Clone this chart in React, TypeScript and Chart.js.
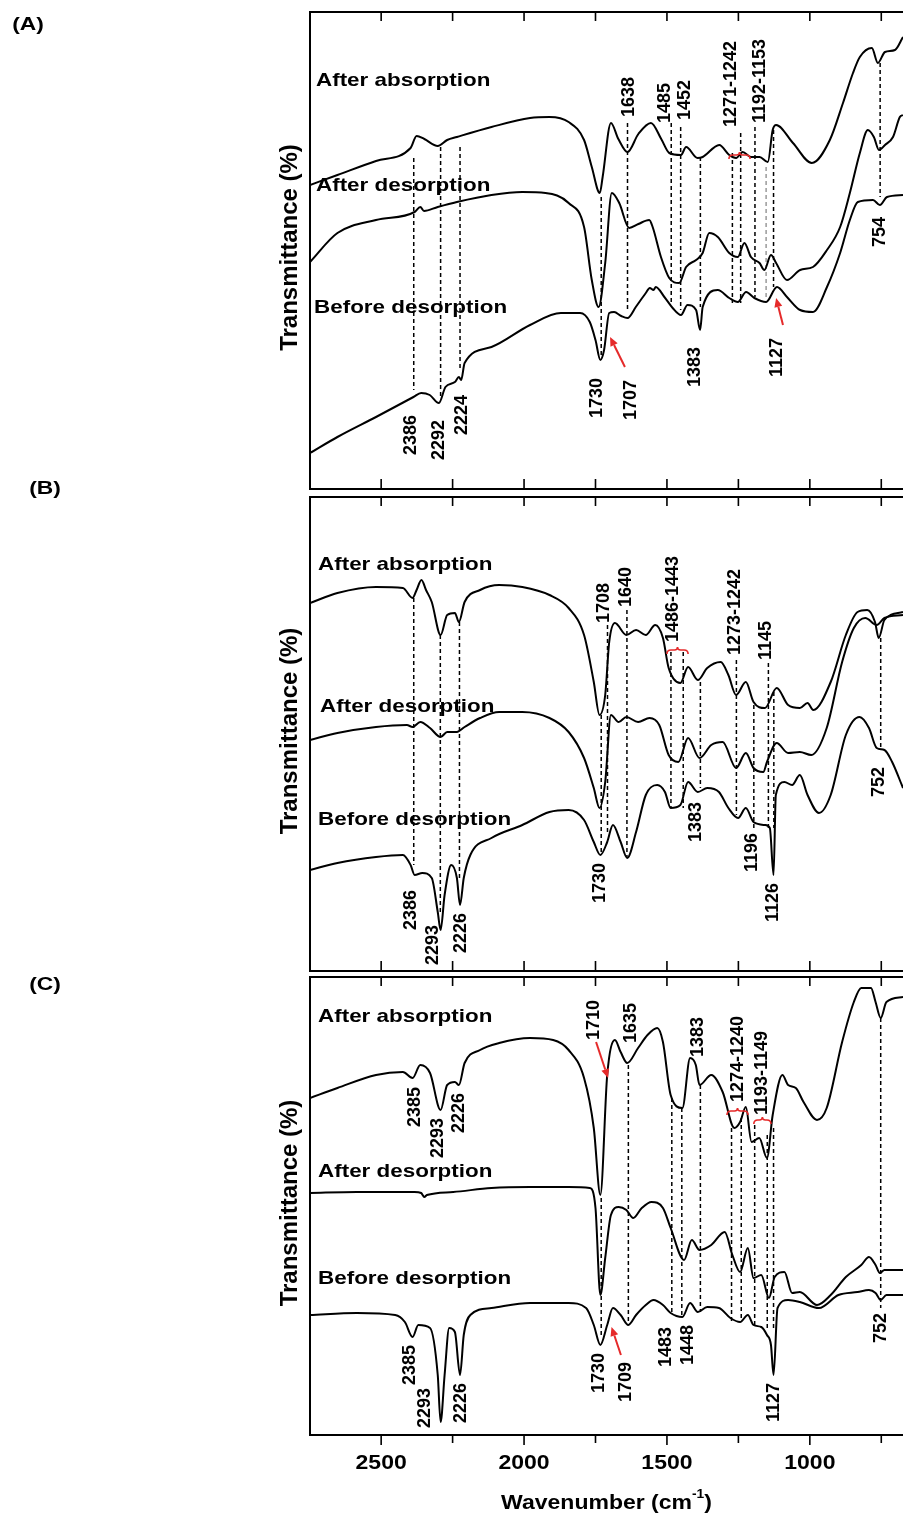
import React, { useEffect, useRef } from "react";
import { Chart, registerables } from "chart.js";

Chart.register(...registerables);

const FONT = "'Liberation Sans', Arial, Helvetica, sans-serif";
const WN_MIN = 674;
const WN_MAX = 2749;
const TICK_VALUES = [2500, 2250, 2000, 1750, 1500, 1250, 1000, 750];
const TICK_LABELS = ["2500", "", "2000", "", "1500", "", "1000", ""];
const SERIES_NAMES = ["After absorption", "After desorption", "Before desorption"];
const X_TITLE = "Wavenumber (cm";
const X_TITLE_SUP = "-1";
const Y_TITLE = "Transmittance (%)";

// ---------------- Panel A ----------------
const A_ABS_WN = [2749,2653,2518,2397,2376,2349,2302,2269,2235,2114,1979,1911,1844,1790,1763,1735,1725,1696,1670,1638,1600,1556,1520,1492,1451,1433,1393,1375,1317,1282,1258,1235,1206,1176,1147,1130,1118,1059,993,930,884,849,825,783,762,737,702,674];
const A_ABS_T = [304,314,328,341,353,350,343,349,352,362,371,372,367,349,322,296,312,366,350,337,355,366,350,336,334,342,331,332,344,334,331,337,332,332,327,359,364,346,326,349,386,416,432,441,426,437,439,452];
const A_DES_WN = [2749,2653,2518,2383,2363,2350,2302,2235,2114,2006,1925,1844,1790,1763,1739,1716,1693,1667,1632,1600,1562,1550,1521,1492,1457,1433,1398,1375,1352,1322,1282,1252,1229,1206,1176,1159,1136,1118,1080,1034,989,940,894,860,825,797,776,758,737,709,685,674];
const A_DES_T = [227,256,269,277,282,278,282,287,294,297,296,286,262,209,182,226,296,286,261,265,269,262,232,211,206,222,229,236,256,252,236,232,246,232,226,219,234,226,209,219,222,239,262,296,336,359,352,339,344,352,372,374];
const A_BEF_WN = [2749,2653,2518,2387,2360,2330,2298,2275,2242,2228,2220,2208,2114,1979,1871,1804,1770,1750,1733,1720,1702,1685,1660,1638,1609,1574,1560,1547,1539,1509,1480,1451,1428,1398,1384,1375,1322,1282,1252,1223,1194,1153,1115,1080,1034,989,940,894,860,832,779,755,730,674];
const A_BEF_T = [36,52,72,92,96,94,86,102,107,112,109,126,142,164,176,176,167,149,129,139,176,177,173,171,182,196,201,199,202,192,181,174,184,179,159,182,199,191,187,197,191,187,202,192,179,177,202,236,269,287,289,284,292,294];
const A_DASH_WN = [2386,2292,2224,1730,1638,1485,1452,1383,1271,1242,1192,1153,1127,754];
const A_DASH_TOP = [331,342,342,292,366,366,362,332,336,356,362,322,359,426];
const A_DASH_BOT = [99,91,119,132,179,186,179,182,186,186,192,192,202,292];
const A_GRAY_DASH = [1153];
const A_LABEL_TEXT = ["1638","1485","1452","1271-1242","1192-1153","754","2386","2292","2224","1730","1707","1383","1127"];
const A_LABEL_WN = [1634,1505,1438,1275,1175,755,2397,2297,2216,1743,1627,1400,1116];
const A_LABEL_Y = [372,366,369,362,366,242,34,29,54,71,69,102,112];
const A_NAME_WN = [2728,2728,2735];
const A_NAME_Y = [408,303,181];
const A_ARROWS = [[1647,122,1699,152],[1094,164,1118,191]];
const A_BRACES = [[1283,1209,334]];

// ---------------- Panel B ----------------
const B_ABS_WN = [2749,2653,2518,2424,2390,2376,2359,2343,2323,2292,2269,2242,2228,2208,2154,2087,2006,1911,1844,1790,1756,1736,1716,1702,1682,1642,1608,1574,1541,1514,1494,1453,1426,1392,1359,1312,1285,1258,1224,1197,1157,1116,1076,1035,1008,988,927,874,833,799,772,759,739,674];
const B_ABS_T = [368,378,384,383,373,381,391,381,369,336,356,358,349,369,381,386,384,376,363,336,289,256,276,329,348,336,341,336,346,333,303,288,304,291,303,309,296,276,289,269,263,283,266,263,268,261,289,336,359,361,349,333,351,359];
const B_DES_WN = [2749,2653,2518,2410,2390,2363,2329,2292,2269,2235,2208,2154,2087,2006,1911,1844,1790,1756,1736,1716,1696,1669,1642,1601,1561,1527,1494,1460,1426,1386,1345,1305,1258,1224,1197,1163,1150,1116,1076,1035,995,941,887,846,806,766,739,674];
const B_DES_T = [231,238,244,246,244,249,243,234,239,239,244,253,259,259,253,239,213,183,163,189,256,249,254,249,253,246,216,209,233,213,226,229,203,218,203,199,209,228,218,219,216,243,309,343,353,346,353,356];
const B_BEF_WN = [2749,2653,2518,2424,2397,2383,2356,2323,2302,2292,2278,2255,2235,2224,2211,2188,2114,2006,1911,1844,1790,1756,1733,1709,1689,1662,1639,1608,1574,1534,1507,1487,1453,1426,1392,1359,1318,1285,1251,1224,1197,1157,1140,1127,1119,1089,1062,1035,1008,968,927,874,826,793,766,739,712,674];
const B_BEF_T = [101,108,114,116,106,96,98,93,59,41,76,106,93,66,93,116,133,146,159,161,151,129,116,129,146,129,113,139,176,186,179,163,166,189,179,183,179,163,153,163,149,146,143,96,176,189,186,196,176,158,176,236,254,243,223,221,209,183];
const B_DASH_WN = [2386,2293,2226,1730,1708,1640,1486,1443,1383,1257,1196,1145,1126,752];
const B_DASH_TOP = [373,336,349,256,346,361,319,319,289,311,266,308,279,333];
const B_DASH_BOT = [106,59,93,116,136,114,163,163,183,156,143,143,143,223];
const B_GRAY_DASH: number[] = [];
const B_LABEL_TEXT = ["1708","1640","1486-1443","1273-1242","1145","2386","2293","2226","1730","1383","1196","1126","752"];
const B_LABEL_WN = [1720,1643,1479,1262,1153,2394,2319,2219,1734,1398,1202,1129,758];
const B_LABEL_Y = [348,364,329,316,311,41,6,18,68,129,99,49,174];
const B_NAME_WN = [2721,2714,2721];
const B_NAME_Y = [406,264,151];
const B_ARROWS: number[][] = [];
const B_BRACES = [[1500,1426,321]];

// ---------------- Panel C ----------------
const C_ABS_WN = [2749,2653,2518,2424,2390,2363,2329,2292,2269,2242,2228,2208,2154,2087,1979,1898,1844,1790,1756,1733,1709,1682,1662,1639,1601,1568,1534,1514,1487,1446,1419,1399,1386,1345,1305,1264,1244,1224,1204,1177,1150,1130,1096,1076,1049,1022,975,941,887,846,820,786,770,752,732,674];
const C_ABS_T = [337,347,360,363,357,370,362,325,350,353,350,372,385,392,397,395,385,357,307,240,360,395,383,372,387,400,407,393,340,327,377,370,350,360,343,307,313,328,293,297,277,320,360,350,347,333,315,327,393,433,447,447,433,417,433,438];
const C_DES_WN = [2749,2585,2383,2360,2349,2340,2248,2114,1979,1844,1770,1750,1733,1716,1696,1669,1642,1618,1588,1554,1514,1487,1440,1413,1386,1345,1298,1271,1244,1217,1197,1170,1143,1123,1089,1062,1035,975,927,874,820,793,770,755,739,674];
const C_DES_T = [242,243,243,242,238,240,243,247,248,248,247,227,140,177,220,228,225,217,227,233,227,207,175,195,185,190,203,180,163,187,157,160,137,158,163,142,143,130,140,158,170,178,170,162,165,165];
const C_BEF_WN = [2749,2585,2451,2417,2390,2370,2329,2302,2292,2278,2262,2242,2224,2211,2188,2114,1979,1844,1783,1756,1733,1709,1689,1662,1635,1608,1574,1547,1514,1487,1446,1419,1392,1359,1318,1278,1244,1217,1197,1170,1150,1136,1127,1113,1076,1035,968,900,833,793,770,752,732,674];
const C_BEF_T = [120,122,120,113,98,110,107,60,13,60,107,103,60,100,120,127,132,132,127,110,90,110,127,120,110,120,130,135,130,122,118,132,123,128,127,117,113,120,110,108,100,90,60,127,135,133,127,140,143,145,142,135,140,140];
const C_DASH_WN = [1730,1635,1483,1448,1383,1274,1240,1193,1149,1127,752];
const C_DASH_TOP = [237,370,337,327,350,307,317,310,300,307,417];
const C_DASH_BOT = [97,110,120,117,123,113,113,110,107,105,127];
const C_GRAY_DASH: number[] = [];
const C_LABEL_TEXT = ["1710","1635","1383","1274-1240","1193-1149","2385","2293","2226","2385","2293","2226","1730","1709","1483","1448","1127","752"];
const C_LABEL_WN = [1755,1626,1391,1251,1169,2383,2302,2226,2400,2347,2219,1738,1643,1503,1426,1125,751];
const C_LABEL_Y = [395,392,378,333,320,308,277,302,50,7,12,42,33,68,70,13,92];
const C_NAME_WN = [2721,2721,2721];
const C_NAME_Y = [418,263,156];
const C_ARROWS = [[1748,393,1706,357],[1661,80,1694,108]];
const C_BRACES = [[1290,1216,324],[1196,1136,315]];

type Panel = {
  letter: string;
  letterX: number;
  letterDy: number;
  canvasTop: number;
  canvasHeight: number;
  padTop: number;
  padBottom: number;
  yMax: number;
  series: { wn: number[]; t: number[] }[];
  dashWn: number[];
  dashTop: number[];
  dashBot: number[];
  grayDash: number[];
  labelText: string[];
  labelWn: number[];
  labelY: number[];
  nameWn: number[];
  nameY: number[];
  arrows: number[][];
  braces: number[][];
  axisBelow: boolean;
};

const PANELS: Panel[] = [
  {
    letter: "(A)", letterX: 28, letterDy: 13,
    canvasTop: 0, canvasHeight: 493, padTop: 12, padBottom: 4, yMax: 477,
    series: [
      { wn: A_ABS_WN, t: A_ABS_T },
      { wn: A_DES_WN, t: A_DES_T },
      { wn: A_BEF_WN, t: A_BEF_T },
    ],
    dashWn: A_DASH_WN, dashTop: A_DASH_TOP, dashBot: A_DASH_BOT, grayDash: A_GRAY_DASH,
    labelText: A_LABEL_TEXT, labelWn: A_LABEL_WN, labelY: A_LABEL_Y,
    nameWn: A_NAME_WN, nameY: A_NAME_Y, arrows: A_ARROWS, braces: A_BRACES,
    axisBelow: false,
  },
  {
    letter: "(B)", letterX: 45, letterDy: -8,
    canvasTop: 470, canvasHeight: 505, padTop: 27, padBottom: 4, yMax: 474,
    series: [
      { wn: B_ABS_WN, t: B_ABS_T },
      { wn: B_DES_WN, t: B_DES_T },
      { wn: B_BEF_WN, t: B_BEF_T },
    ],
    dashWn: B_DASH_WN, dashTop: B_DASH_TOP, dashBot: B_DASH_BOT, grayDash: B_GRAY_DASH,
    labelText: B_LABEL_TEXT, labelWn: B_LABEL_WN, labelY: B_LABEL_Y,
    nameWn: B_NAME_WN, nameY: B_NAME_Y, arrows: B_ARROWS, braces: B_BRACES,
    axisBelow: false,
  },
  {
    letter: "(C)", letterX: 45, letterDy: 8,
    canvasTop: 960, canvasHeight: 557, padTop: 17, padBottom: 82, yMax: 458,
    series: [
      { wn: C_ABS_WN, t: C_ABS_T },
      { wn: C_DES_WN, t: C_DES_T },
      { wn: C_BEF_WN, t: C_BEF_T },
    ],
    dashWn: C_DASH_WN, dashTop: C_DASH_TOP, dashBot: C_DASH_BOT, grayDash: C_GRAY_DASH,
    labelText: C_LABEL_TEXT, labelWn: C_LABEL_WN, labelY: C_LABEL_Y,
    nameWn: C_NAME_WN, nameY: C_NAME_Y, arrows: C_ARROWS, braces: C_BRACES,
    axisBelow: true,
  },
];

const RED = "#e52a2a";

function stretchText(ctx: CanvasRenderingContext2D, text: string, x: number, y: number, sx: number, align: CanvasTextAlign) {
  ctx.save();
  ctx.translate(x, y);
  ctx.scale(sx, 1);
  ctx.textAlign = align;
  ctx.fillText(text, 0, 0);
  ctx.restore();
}

function makeDecor(p: Panel) {
  return {
    id: "decor",
    afterDraw(chart: any) {
      const ctx: CanvasRenderingContext2D = chart.ctx;
      const xs = chart.scales.x;
      const ys = chart.scales.y;
      const { left, right, top, bottom } = chart.chartArea;
      const X = (v: number) => xs.getPixelForValue(v);
      const Y = (v: number) => ys.getPixelForValue(v);
      ctx.save();

      // frame
      ctx.strokeStyle = "#000";
      ctx.lineWidth = 2;
      ctx.beginPath();
      ctx.moveTo(right + 2, top);
      ctx.lineTo(left, top);
      ctx.lineTo(left, bottom);
      ctx.lineTo(right + 2, bottom);
      ctx.stroke();

      // ticks
      ctx.lineWidth = 1.6;
      TICK_VALUES.forEach((v, i) => {
        const x = X(v);
        ctx.beginPath();
        ctx.moveTo(x, top);
        ctx.lineTo(x, top + 9);
        ctx.moveTo(x, bottom);
        if (p.axisBelow) ctx.lineTo(x, bottom + (TICK_LABELS[i] ? 10 : 8));
        else ctx.lineTo(x, bottom - 10);
        ctx.stroke();
      });

      ctx.fillStyle = "#000";
      ctx.textBaseline = "middle";

      // series names
      ctx.font = `bold 19px ${FONT}`;
      SERIES_NAMES.forEach((name, i) => {
        stretchText(ctx, name, X(p.nameWn[i]), Y(p.nameY[i]), 1.18, "left");
      });

      // peak labels (rotated)
      ctx.font = `bold 18px ${FONT}`;
      p.labelText.forEach((txt, i) => {
        ctx.save();
        ctx.translate(X(p.labelWn[i]), Y(p.labelY[i]));
        ctx.rotate(-Math.PI / 2);
        ctx.textAlign = "left";
        ctx.textBaseline = "middle";
        ctx.fillText(txt, 0, 0);
        ctx.restore();
      });

      // panel letter
      ctx.font = `bold 19px ${FONT}`;
      stretchText(ctx, p.letter, p.letterX, top + p.letterDy, 1.2, "center");

      // y title
      ctx.font = `bold 24px ${FONT}`;
      ctx.save();
      ctx.translate(left - 20, (top + bottom) / 2 - 3);
      ctx.rotate(-Math.PI / 2);
      ctx.textAlign = "center";
      ctx.fillText(Y_TITLE, 0, 0);
      ctx.restore();

      // red arrows
      ctx.strokeStyle = RED;
      ctx.fillStyle = RED;
      ctx.lineWidth = 2;
      p.arrows.forEach((a) => {
        const x1 = X(a[0]), y1 = Y(a[1]), x2 = X(a[2]), y2 = Y(a[3]);
        const ang = Math.atan2(y2 - y1, x2 - x1);
        const hl = 9, hw = 4;
        const bx = x2 - hl * Math.cos(ang), by = y2 - hl * Math.sin(ang);
        ctx.beginPath();
        ctx.moveTo(x1, y1);
        ctx.lineTo(bx, by);
        ctx.stroke();
        ctx.beginPath();
        ctx.moveTo(x2, y2);
        ctx.lineTo(bx + hw * Math.sin(ang), by - hw * Math.cos(ang));
        ctx.lineTo(bx - hw * Math.sin(ang), by + hw * Math.cos(ang));
        ctx.closePath();
        ctx.fill();
      });

      // red braces
      ctx.lineWidth = 1.6;
      p.braces.forEach((b) => {
        const x1 = X(b[0]), x2 = X(b[1]), y = Y(b[2]);
        const m = (x1 + x2) / 2;
        ctx.beginPath();
        ctx.moveTo(x1, y + 4);
        ctx.quadraticCurveTo(x1, y, x1 + 4, y);
        ctx.lineTo(m - 3, y);
        ctx.quadraticCurveTo(m, y, m, y - 3);
        ctx.quadraticCurveTo(m, y, m + 3, y);
        ctx.lineTo(x2 - 4, y);
        ctx.quadraticCurveTo(x2, y, x2, y + 4);
        ctx.stroke();
      });

      // x axis labels & title
      if (p.axisBelow) {
        ctx.fillStyle = "#000";
        ctx.font = `bold 20px ${FONT}`;
        TICK_VALUES.forEach((v, i) => {
          if (TICK_LABELS[i]) stretchText(ctx, TICK_LABELS[i], X(v), bottom + 28, 1.15, "center");
        });
        const sx = 1.15;
        ctx.font = `bold 20px ${FONT}`;
        const w1 = ctx.measureText(X_TITLE).width;
        const w3 = ctx.measureText(")").width;
        ctx.font = `bold 12px ${FONT}`;
        const w2 = ctx.measureText(X_TITLE_SUP).width;
        const total = (w1 + w2 + w3) * sx;
        let x0 = (left + right) / 2 - total / 2;
        const ty = bottom + 68;
        ctx.font = `bold 20px ${FONT}`;
        stretchText(ctx, X_TITLE, x0, ty, sx, "left");
        x0 += w1 * sx;
        ctx.font = `bold 12px ${FONT}`;
        stretchText(ctx, X_TITLE_SUP, x0, ty - 8, sx, "left");
        x0 += w2 * sx;
        ctx.font = `bold 20px ${FONT}`;
        stretchText(ctx, ")", x0, ty, sx, "left");
      }
      ctx.restore();
    },
  };
}

function PanelChart({ p }: { p: Panel }) {
  const ref = useRef<HTMLCanvasElement | null>(null);
  useEffect(() => {
    if (!ref.current) return;
    const spectra = p.series.map((s) => ({
      data: s.wn.map((w, i) => ({ x: w, y: s.t[i] })),
      borderColor: "#000",
      borderWidth: 2,
      pointRadius: 0,
      fill: false,
      cubicInterpolationMode: "monotone" as const,
      order: 1,
    }));
    const dashes = p.dashWn.map((w, i) => ({
      data: [
        { x: w, y: p.dashTop[i] },
        { x: w, y: p.dashBot[i] },
      ],
      borderColor: p.grayDash.includes(w) ? "#9a9a9a" : "#000",
      borderWidth: 1.5,
      borderDash: [4, 3],
      pointRadius: 0,
      fill: false,
      order: 2,
    }));
    const chart = new Chart(ref.current, {
      type: "line",
      data: { datasets: [...spectra, ...dashes] as any },
      options: {
        responsive: false,
        animation: false,
        devicePixelRatio: 1,
        events: [],
        layout: { padding: { left: 310, right: 0, top: p.padTop, bottom: p.padBottom } },
        plugins: { legend: { display: false }, tooltip: { enabled: false } },
        scales: {
          x: { type: "linear", reverse: true, min: WN_MIN, max: WN_MAX, display: false },
          y: { type: "linear", min: 0, max: p.yMax, display: false },
        },
      },
      plugins: [makeDecor(p)],
    });
    return () => chart.destroy();
  }, [p]);
  return (
    <canvas
      ref={ref}
      width={903}
      height={p.canvasHeight}
      style={{ position: "absolute", left: 0, top: p.canvasTop, width: 903, height: p.canvasHeight }}
    />
  );
}

export default function App() {
  return (
    <div style={{ position: "absolute", left: 0, top: 0, width: 903, height: 1517, background: "#fff", overflow: "hidden" }}>
      {PANELS.map((p) => (
        <PanelChart key={p.letter} p={p} />
      ))}
    </div>
  );
}
